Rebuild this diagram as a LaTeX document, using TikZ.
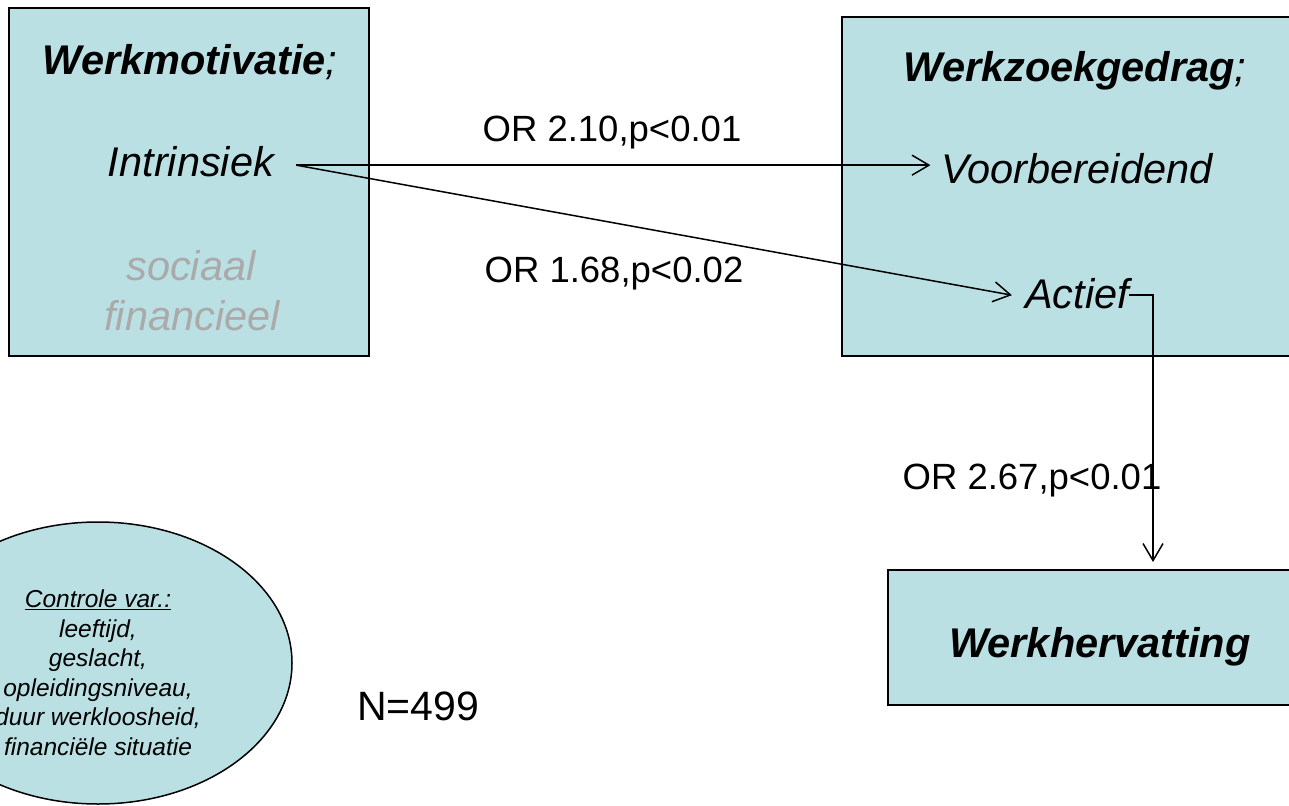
\documentclass[tikz,border=0pt]{standalone}
\usepackage{fontspec}
\setmainfont{Liberation Sans}
\usetikzlibrary{arrows.meta,shapes.geometric}
\definecolor{vakblauw}{RGB}{187,224,227}
\definecolor{vaalgrijs}{RGB}{170,170,170}
\begin{document}
\begin{tikzpicture}[x=1pt,y=-1pt,
    vak/.style={draw,line width=2pt,fill=vakblauw,inner sep=0pt},
    groot/.style={anchor=base,inner sep=0pt,font=\fontsize{41.5}{50}\selectfont\itshape},
    titel/.style={groot,font=\fontsize{41.5}{50}\selectfont\bfseries\itshape},
    oddsratio/.style={anchor=base,inner sep=0pt,font=\fontsize{36.5}{44}\selectfont},
    pijl/.style={line width=1.5pt,-{Straight Barb[length=17pt,width=20pt]}}]
    \useasboundingbox (0,0) rectangle (1289,805);
    \node [vak,minimum width=360pt,minimum height=348pt] (motivatie) at (189,182) {};
    \node [vak,anchor=north west,minimum width=470pt,minimum height=339pt] (zoekgedrag) at (841,16) {};
    \node [vak,anchor=north west,minimum width=430pt,minimum height=135pt] (hervatting) at (887,569) {};
    \node [vak,ellipse,line width=1.5pt,minimum width=388pt,minimum height=282pt] (controle) at (98,663) {};
		\node [titel] (werkmotivatie) at (190,75) {Werkmotivatie\mdseries;};
		\node [groot] (intrinsiek) at (191,177) {Intrinsiek};
		\node [groot,text=vaalgrijs] (sociaal) at (191,280) {sociaal};
		\node [groot,text=vaalgrijs] (financieel) at (192,330) {financieel};
		\node [titel] (werkzoekgedrag) at (1075,82) {Werkzoekgedrag\mdseries;};
		\node [groot] (voorbereidend) at (1077,183) {Voorbereidend};
		\node [groot] (actief) at (1077,308) {Actief};
		\node [titel] (werkhervatting) at (1100,657) {Werkhervatting};
		\node [oddsratio] (or1) at (612,142) {OR 2.10,p<0.01};
		\node [oddsratio] (or2) at (614,282) {OR 1.68,p<0.02};
		\node [oddsratio] (or3) at (1032,489) {OR 2.67,p<0.01};
		\node [oddsratio,font=\fontsize{41}{50}\selectfont] (aantal) at (418,720) {N=499};
		\node [align=center,inner sep=0pt,font=\fontsize{24.5}{29.5}\selectfont\itshape] (controletekst) at (98,672.5)
			{\underline{Controle var.:}\\leeftijd,\\geslacht,\\opleidingsniveau,\\duur werkloosheid,\\financiële situatie};
    \coordinate (vanintrinsiek) at ([xshift=22pt,yshift=-3pt]intrinsiek.east);
    \coordinate (naarhervatting) at (1153,562);
    \draw [pijl] (vanintrinsiek) -- ([xshift=-11pt]voorbereidend.west |- vanintrinsiek);
    \draw [pijl] (vanintrinsiek) -- ([xshift=-13pt,yshift=-2pt]actief.west);
    \draw [pijl] ([yshift=-2pt]actief.east) -| (naarhervatting);
  \end{tikzpicture}
\end{document}
